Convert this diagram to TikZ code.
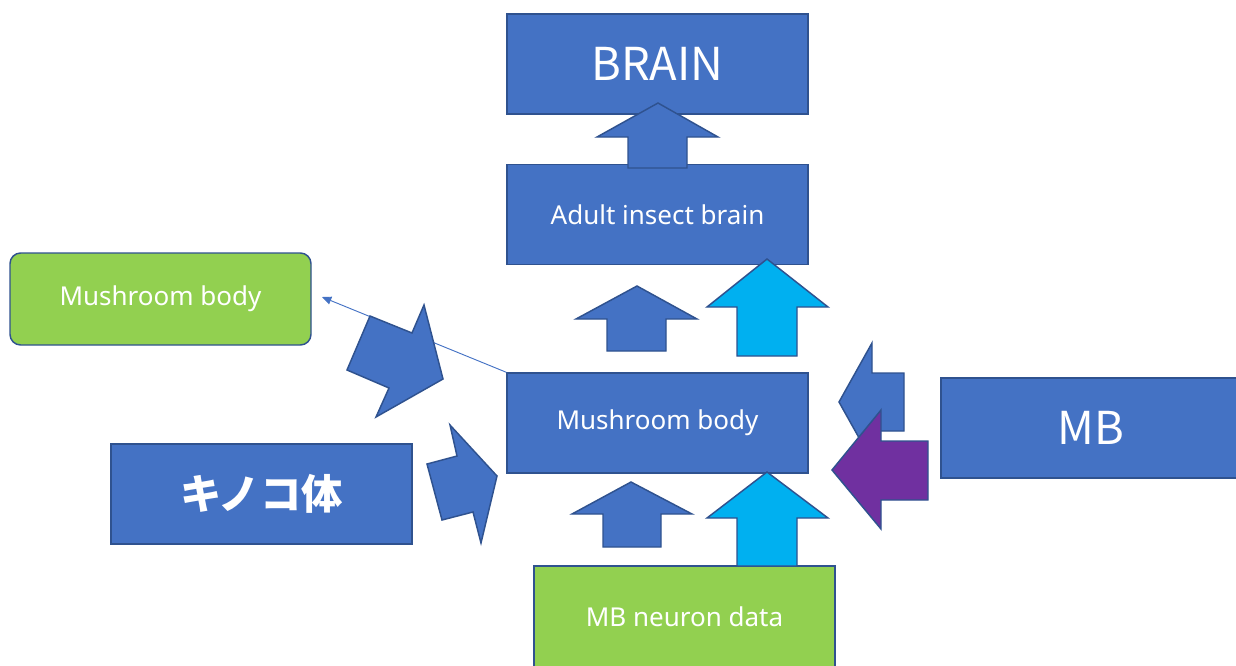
\documentclass[tikz,border=0pt]{standalone}
\usepackage{fontspec}
\setmainfont{Noto Sans}
\newfontfamily\jpfont{Noto Sans CJK JP}
\usetikzlibrary{arrows.meta}
\definecolor{boxblue}{HTML}{4472C4}
\definecolor{edgeblue}{HTML}{2F528F}
\definecolor{leafgreen}{HTML}{92D050}
\definecolor{skycyan}{HTML}{00B0F0}
\definecolor{deeppurple}{HTML}{7030A0}

\begin{document}
\begin{tikzpicture}[x=0.75pt,y=-0.75pt,>={Triangle[length=7pt,width=6pt]}]
  \tikzstyle{block}=[rectangle,draw=edgeblue,fill=boxblue,line width=1.1pt,
                     text=white,minimum width=225.75pt,minimum height=75pt,
                     font=\fontsize{19.5}{22}\selectfont]
  \tikzstyle{green block}=[block,fill=leafgreen]
  \tikzstyle{big block}=[block,font=\jpfont\fontsize{34}{40}\selectfont]
  \tikzstyle{blockarrow}=[draw=edgeblue,fill=boxblue,line width=1.1pt,line join=miter]
  \tikzstyle{cyan arrow}=[blockarrow,fill=skycyan]
  \tikzstyle{purple arrow}=[blockarrow,fill=deeppurple]
  \useasboundingbox (0,0) rectangle (1236,665);

  % boxes
  \node [big block] (brain) at (657.5,64) {BRAIN};
  \node [block] (adult) at (657.5,214.5) {Adult insect brain};
  \node [block] (mb) at (657.5,423) {Mushroom body};
  \node [green block,minimum height=76.5pt] (data) at (684.5,617) {MB neuron data};
  \node [green block,rounded corners=8pt,minimum height=69pt] (mbleft) at (160.5,299) {Mushroom body};
  \node [big block,font=\jpfont\fontsize{31}{36}\selectfont\bfseries] (kinoko) at (261.5,494) {キノコ体};
  \node [big block,minimum width=224.25pt] (mbright) at (1090.5,428) {MB};

  % thin link
  \coordinate (linktip) at (322,297);
  \draw [->,boxblue,line width=0.7pt] (mb.north west) -- (linktip);

  % block arrows
  \draw [blockarrow] (658,103) -- (718,137) -- (687,137) -- (687,168)
    -- (628,168) -- (628,137) -- (597,137) -- cycle;
  \draw [blockarrow] (637,286) -- (697,319) -- (666,319) -- (666,351)
    -- (607,351) -- (607,319) -- (576,319) -- cycle;
  \draw [cyan arrow] (767,259) -- (828,307) -- (797,307) -- (797,356)
    -- (737,356) -- (737,307) -- (707,307) -- cycle;
  \draw [blockarrow] (631,482) -- (692,514) -- (661,514) -- (661,547)
    -- (603,547) -- (603,514) -- (572,514) -- cycle;
  \draw [cyan arrow] (767,472) -- (828,518) -- (797,518) -- (797,566)
    -- (737,566) -- (737,518) -- (707,518) -- cycle;
  \draw [blockarrow] (839,402) -- (872,343) -- (872,373) -- (904,373)
    -- (904,431) -- (872,431) -- (872,461) -- cycle;
  \draw [purple arrow] (832,470) -- (881,410) -- (881,441) -- (928,441)
    -- (928,500) -- (881,500) -- (881,529) -- cycle;
  \draw [blockarrow] (443,379) -- (376,417) -- (389,388) -- (347,370)
    -- (370,316) -- (412,333) -- (424,305) -- cycle;
  \draw [blockarrow] (497,476) -- (481,543) -- (473,512) -- (442,520)
    -- (427,464) -- (457,456) -- (450,425) -- cycle;
\end{tikzpicture}
\end{document}
